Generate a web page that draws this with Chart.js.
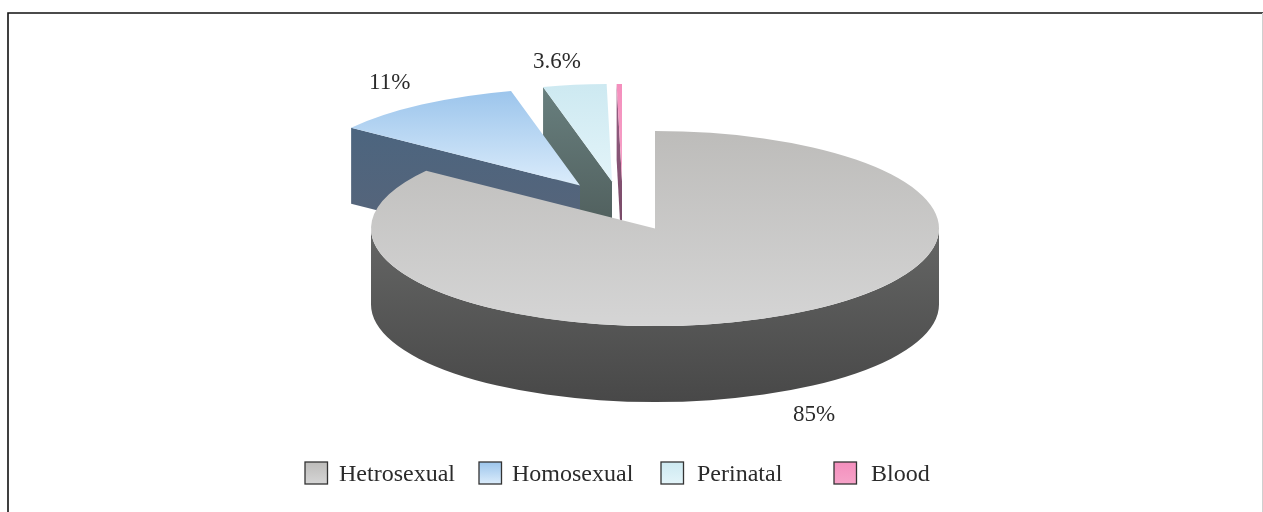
<!DOCTYPE html>
<html>
<head>
<meta charset="utf-8">
<style>html,body{margin:0;padding:0;background:#fff}canvas{display:block}</style>
<script src="https://cdn.jsdelivr.net/npm/chart.js@4"></script>
</head>
<body>
<canvas id="c" width="1263" height="512"></canvas>
<script>
const categories = ['Hetrosexual', 'Homosexual', 'Perinatal', 'Blood'];
const shares = [85, 11, 3.6, 0.3];
const shareLabels = ['85%', '11%', '3.6%', ''];

const SQUASH = 97.5 / 284, DEPTH = 76, FONT = '23px "Liberation Serif"', LEGEND_FONT = '24px "Liberation Serif"', INK = '#2b2b2b';
const explode = [[0, 0], [-75, -43], [-43, -47], [-33, -47]];
const topStops = [['#bdbcba', '#d5d5d5', 131, 326], ['#9cc5ec', '#dbecfb', 91, 186], ['#cde9f1', '#e3f4f9', 84, 182], ['#f48fbd', '#f6a3c8', 84, 182]];
const sideStops = [['#656665', '#484848', 229, 401], ['#4c657f', '#5a6478', 129, 262], ['#687f7e', '#4b5856', 88, 258], ['#9a5f85', '#6f4560', 84, 258]];
const legendBoxes = [[305, 462], [479, 462], [661, 462], [834, 462]];
const legendTextX = [339, 512, 697, 871];
const labelPos = [[793, 421], [369, 89], [533, 68], [0, 0]];

function topGradient(c) {
  const chart = c.chart, area = chart.chartArea, i = c.dataIndex;
  if (!area) return topStops[i][0];
  const cy = (area.top + area.bottom) / 2;
  const toLocal = y => cy + (y - explode[i][1] - cy) / SQUASH;
  const g = chart.ctx.createLinearGradient(0, toLocal(topStops[i][2]), 0, toLocal(topStops[i][3]));
  g.addColorStop(0, topStops[i][0]);
  g.addColorStop(1, topStops[i][1]);
  return g;
}

const pie3d = {
  id: 'pie3d',
  beforeDraw(chart) {
    const ctx = chart.ctx;
    ctx.save();
    ctx.strokeStyle = '#111'; ctx.lineWidth = 1.6;
    ctx.beginPath(); ctx.moveTo(8, 512); ctx.lineTo(8, 13); ctx.lineTo(1263, 13); ctx.stroke();
    ctx.strokeStyle = '#cfcfcf'; ctx.lineWidth = 1;
    ctx.beginPath(); ctx.moveTo(1262.5, 13); ctx.lineTo(1262.5, 512); ctx.stroke();
    ctx.restore();
  },
  beforeDatasetDraw(chart, args) {
    const ctx = chart.ctx, arcs = args.meta.data;
    [3, 2, 1, 0].forEach(i => {
      const el = arcs[i];
      const x = el.x + explode[i][0], y = el.y + explode[i][1], r = el.outerRadius, ry = r * SQUASH;
      const s = sideStops[i];
      const g = ctx.createLinearGradient(0, s[2], 0, s[3]);
      g.addColorStop(0, s[0]); g.addColorStop(1, s[1]);
      ctx.save();
      ctx.fillStyle = g;
      const face = a => {
        ctx.beginPath();
        ctx.moveTo(x, y);
        ctx.lineTo(x + r * Math.cos(a), y + ry * Math.sin(a));
        ctx.lineTo(x + r * Math.cos(a), y + ry * Math.sin(a) + DEPTH);
        ctx.lineTo(x, y + DEPTH);
        ctx.closePath();
        ctx.fill();
      };
      if (Math.cos(el.startAngle) < 0) face(el.startAngle);
      if (Math.cos(el.endAngle) > 0) face(el.endAngle);
      const a1 = Math.max(el.startAngle, 0), a2 = Math.min(el.endAngle, Math.PI);
      if (a2 > a1) {
        ctx.beginPath();
        ctx.ellipse(x, y, r, ry, 0, a1, a2);
        ctx.ellipse(x, y + DEPTH, r, ry, 0, a2, a1, true);
        ctx.closePath();
        ctx.fill();
      }
      ctx.restore();
      ctx.save();
      ctx.translate(x, y);
      ctx.scale(1, SQUASH);
      ctx.translate(-el.x, -el.y);
      el.draw(ctx);
      ctx.restore();
    });
    return false;
  },
  afterDraw(chart) {
    const ctx = chart.ctx;
    ctx.save();
    ctx.font = FONT; ctx.fillStyle = INK; ctx.textBaseline = 'alphabetic'; ctx.textAlign = 'left';
    shareLabels.forEach((t, i) => { if (t) ctx.fillText(t, labelPos[i][0], labelPos[i][1]); });
    ctx.font = LEGEND_FONT;
    categories.forEach((name, i) => {
      const [bx, by] = legendBoxes[i];
      const g = ctx.createLinearGradient(0, by, 0, by + 22);
      g.addColorStop(0, topStops[i][0]); g.addColorStop(1, topStops[i][1]);
      ctx.fillStyle = g;
      ctx.fillRect(bx, by, 22.5, 22);
      ctx.strokeStyle = '#333'; ctx.lineWidth = 1.3;
      ctx.strokeRect(bx, by, 22.5, 22);
      ctx.fillStyle = INK;
      ctx.fillText(name, legendTextX[i], 481);
    });
    ctx.restore();
  }
};

new Chart(document.getElementById('c'), {
  type: 'pie',
  data: {
    labels: categories,
    datasets: [{ data: shares, backgroundColor: topGradient, borderWidth: 0, radius: 284 }]
  },
  options: {
    responsive: false,
    animation: false,
    layout: { padding: { left: 47, top: 0, right: 0, bottom: 55 } },
    plugins: { legend: { display: false }, tooltip: { enabled: false } }
  },
  plugins: [pie3d]
});
</script>
</body>
</html>
